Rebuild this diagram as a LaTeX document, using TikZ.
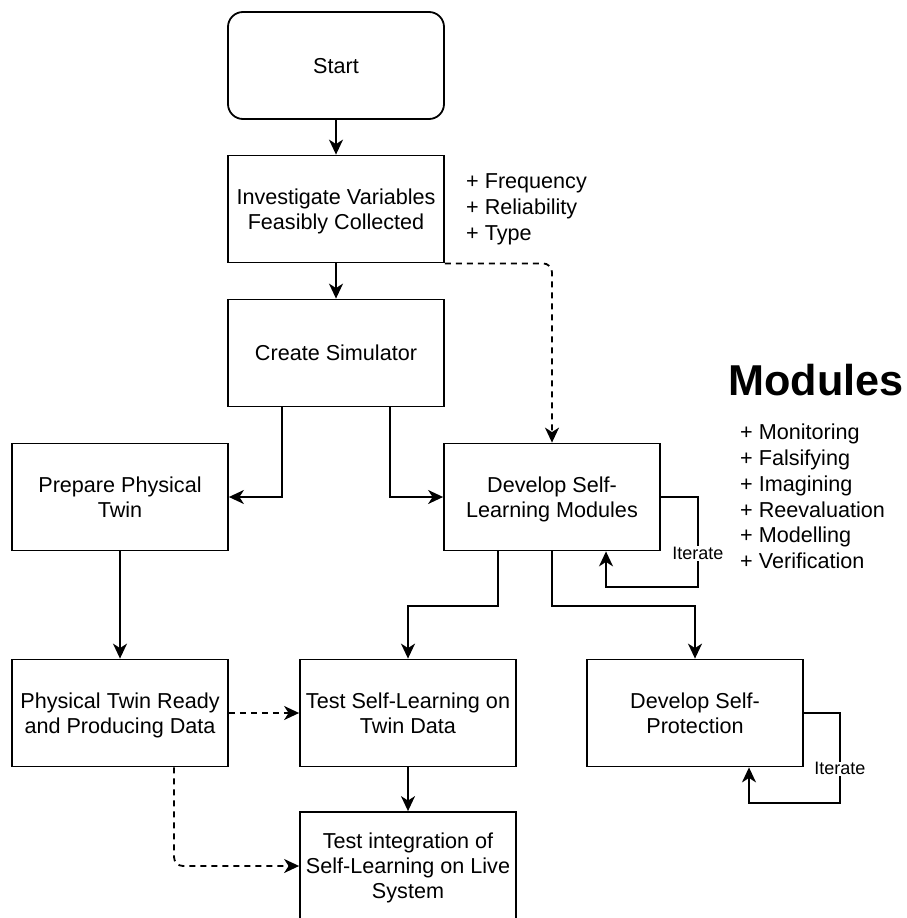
\documentclass[tikz,border=0pt]{standalone}
\usepackage{fontspec}
\setmainfont{Liberation Sans}
\usetikzlibrary{arrows.meta,calc}

\tikzset{
  box/.style={draw=black, line width=1.8pt, minimum width=216pt, minimum height=107pt,
    inner sep=0pt, align=center, text depth=0pt, font=\fontsize{21.6}{25}\selectfont},
  startbox/.style={box, rounded corners=15pt},
  arr/.style={line width=1.8pt, -{Stealth[length=15pt, width=14pt, inset=4.5pt]}},
  dasharr/.style={arr, dash pattern=on 6pt off 5pt},
  sidelist/.style={anchor=west, align=left, inner sep=0pt, font=\fontsize{21.6}{26}\selectfont},
  iterlabel/.style={fill=white, inner sep=1pt, font=\fontsize{18}{20}\selectfont}
}

\begin{document}
\begin{tikzpicture}[x=1pt, y=-1pt]
  \useasboundingbox[fill=white] (0,0) rectangle (906,918);

  % flowchart steps
  \node[startbox] (start) at (336,65.5) {Start};
  \node[box] (inv)   at (336,209) {Investigate Variables\\Feasibly Collected};
  \node[box] (sim)   at (336,353) {Create Simulator};
  \node[box] (prep)  at (120,497) {Prepare Physical\\Twin};
  \node[box] (dev)   at (552,497) {Develop Self-\\Learning Modules};
  \node[box] (ready) at (120,713) {Physical Twin Ready\\and Producing Data};
  \node[box] (test)  at (408,713) {Test Self-Learning on\\Twin Data};
  \node[box] (prot)  at (695,713) {Develop Self-\\Protection};
  \node[box, minimum height=108pt] (live) at (408,866) {Test integration of\\Self-Learning on Live\\System};

  % annotations
  \node[sidelist] (vars) at (466,209) {+ Frequency\\+ Reliability\\+ Type};
  \node[inner sep=0pt, font=\fontsize{43.2}{48}\selectfont\bfseries] (modtitle) at (816,380) {Modules};
  \node[sidelist, font=\fontsize{21.6}{25.8}\selectfont] (modlist) at (740,496.5)
    {+ Monitoring\\+ Falsifying\\+ Imagining\\+ Reevaluation\\+ Modelling\\+ Verification};

  % main flow
  \draw[arr] (start) -- (inv);
  \draw[arr] (inv) -- (sim);
  \draw[dasharr, rounded corners=9pt] (inv.south east) -| (dev.north);
  \draw[arr] ([xshift=-54pt]sim.south) |- (prep.east);
  \draw[arr] ([xshift=54pt]sim.south) |- (dev.west);
  \draw[arr] (prep) -- (ready);
  \draw[arr] ([xshift=-54pt]dev.south) -- ++(0,54.5) -| (test.north);
  \draw[arr] (dev.south) -- ++(0,54.5) -| (prot.north);
  \draw[dasharr] (ready) -- (test);
  \draw[dasharr, rounded corners=9pt] ([xshift=54pt]ready.south) |- (live.west);
  \draw[arr] (test) -- (live);

  % iteration loops
  \draw[arr] (dev.east) -- ++(37,0) -- ++(0,90)
    node[iterlabel, pos=0.63] (it1) {Iterate} -| ([xshift=54pt]dev.south);
  \draw[arr] (prot.east) -- ++(36,0) -- ++(0,90)
    node[iterlabel, pos=0.62] (it2) {Iterate} -| ([xshift=54pt]prot.south);
\end{tikzpicture}
\end{document}
